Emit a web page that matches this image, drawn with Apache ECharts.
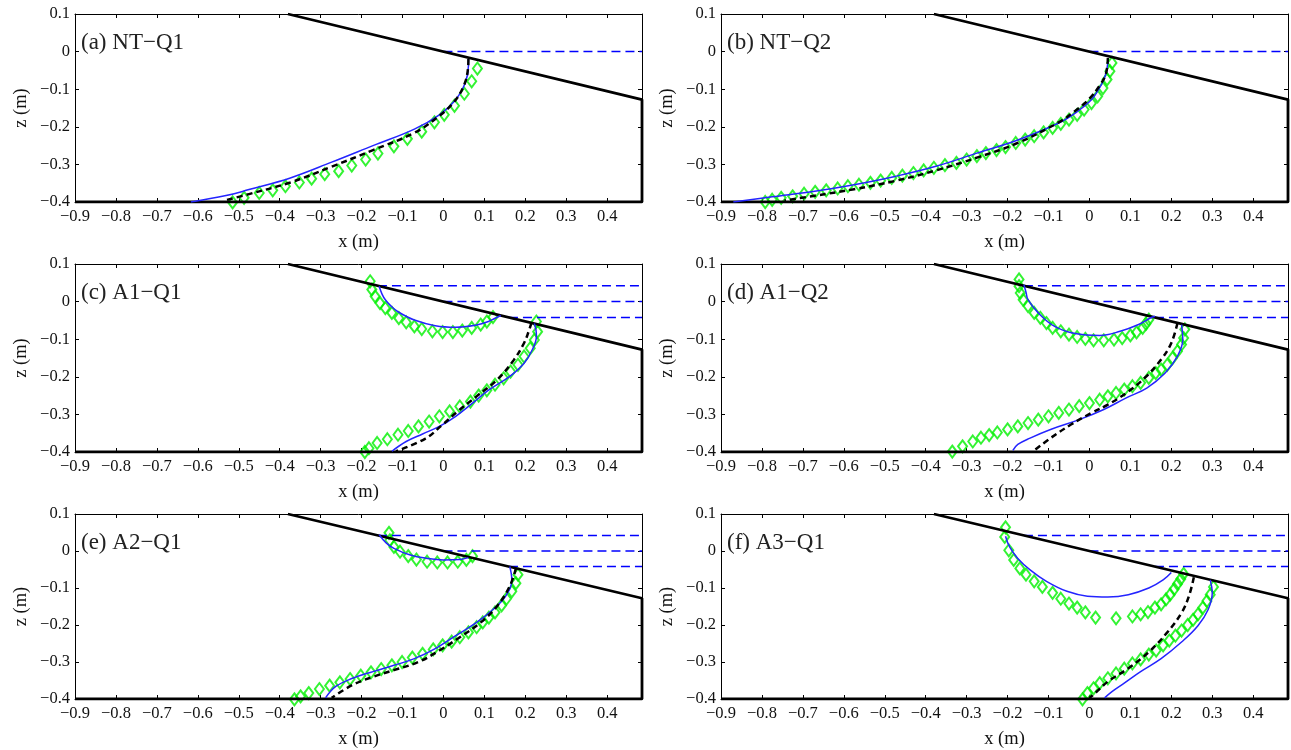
<!DOCTYPE html>
<html>
<head>
<meta charset="utf-8">
<script src="https://cdn.jsdelivr.net/npm/echarts@6/dist/echarts.min.js"></script>
<style>
  html, body { margin: 0; padding: 0; background: #fff; }
  #chart { width: 1291px; height: 750px; }
</style>
</head>
<body>
<div id="chart"></div>
<script>
// axis ranges and ticks
const xMin = -0.9, xMax = 0.485, zMin = -0.4, zMax = 0.1, tickStep = 0.1;

// flume bed (slope + bottom)
const bedX = [-0.38, 0.485, 0.485, -0.9];
const bedZ = [0.1, -0.1277, -0.4, -0.4];

// still water levels and where they meet the slope
const levelsNT = [0];
const startsNT = [0];
const levelsA = [0.042, 0, -0.042];
const startsA = [-0.16, 0, 0.16];

// (a) NT-Q1
const aModel = [[0.061,-0.02],[0.061,-0.039],[0.053,-0.084],[0.03,-0.128],[-0.01,-0.168],[-0.071,-0.206],[-0.172,-0.25],[-0.273,-0.294],[-0.374,-0.336],[-0.475,-0.367],[-0.531,-0.383],[-0.617,-0.4]];
const aTheory = [[0.061,-0.02],[0.06,-0.045],[0.05,-0.09],[0.025,-0.135],[-0.015,-0.175],[-0.071,-0.216],[-0.172,-0.262],[-0.273,-0.306],[-0.374,-0.348],[-0.475,-0.379],[-0.531,-0.395]];
const aExp = [[0.083,-0.045],[0.069,-0.079],[0.051,-0.112],[0.027,-0.144],[0.002,-0.168],[-0.022,-0.188],[-0.053,-0.213],[-0.088,-0.232],[-0.121,-0.252],[-0.16,-0.271],[-0.19,-0.287],[-0.224,-0.303],[-0.256,-0.318],[-0.29,-0.326],[-0.322,-0.338],[-0.352,-0.348],[-0.386,-0.358],[-0.417,-0.369],[-0.45,-0.376],[-0.487,-0.389],[-0.515,-0.401]];

// (b) NT-Q2
const bModel = [[0.045,-0.017],[0.043,-0.045],[0.035,-0.075],[0.02,-0.105],[0.005,-0.128],[-0.03,-0.16],[-0.075,-0.19],[-0.175,-0.235],[-0.275,-0.27],[-0.375,-0.305],[-0.475,-0.332],[-0.575,-0.354],[-0.675,-0.372],[-0.775,-0.386],[-0.87,-0.4]];
const bTheory = [[0.045,-0.017],[0.04,-0.06],[0.025,-0.09],[0,-0.125],[-0.035,-0.158],[-0.075,-0.188],[-0.175,-0.243],[-0.275,-0.282],[-0.375,-0.316],[-0.475,-0.344],[-0.575,-0.366],[-0.675,-0.384],[-0.745,-0.396]];
const bExp = [[0.055,-0.03],[0.05,-0.052],[0.043,-0.074],[0.033,-0.097],[0.02,-0.119],[0.005,-0.137],[-0.013,-0.154],[-0.03,-0.168],[-0.05,-0.181],[-0.07,-0.192],[-0.09,-0.203],[-0.112,-0.215],[-0.135,-0.225],[-0.157,-0.234],[-0.18,-0.243],[-0.205,-0.254],[-0.227,-0.262],[-0.253,-0.27],[-0.275,-0.278],[-0.3,-0.287],[-0.325,-0.296],[-0.353,-0.302],[-0.38,-0.309],[-0.405,-0.316],[-0.43,-0.323],[-0.457,-0.33],[-0.483,-0.336],[-0.51,-0.343],[-0.535,-0.349],[-0.563,-0.354],[-0.59,-0.358],[-0.615,-0.364],[-0.643,-0.369],[-0.67,-0.373],[-0.697,-0.378],[-0.725,-0.385],[-0.753,-0.389],[-0.775,-0.394],[-0.792,-0.4]];

// (c) A1-Q1
const cModelTop = [[-0.157,0.041],[-0.15,0.02],[-0.142,0.005],[-0.128,-0.012],[-0.111,-0.027],[-0.071,-0.049],[-0.02,-0.064],[0.03,-0.068],[0.081,-0.062],[0.11,-0.053],[0.125,-0.045],[0.14,-0.037]];
const cExpTop = [[-0.179,0.054],[-0.175,0.032],[-0.167,0.014],[-0.155,-0.004],[-0.142,-0.017],[-0.126,-0.03],[-0.109,-0.044],[-0.091,-0.055],[-0.071,-0.066],[-0.053,-0.073],[-0.027,-0.079],[-0.002,-0.081],[0.023,-0.081],[0.046,-0.077],[0.069,-0.07],[0.091,-0.061],[0.106,-0.053],[0.121,-0.041]];
const cModel = [[0.222,-0.058],[0.226,-0.075],[0.227,-0.093],[0.217,-0.128],[0.197,-0.164],[0.162,-0.199],[0.111,-0.235],[0.071,-0.27],[0.03,-0.305],[-0.01,-0.332],[-0.051,-0.352],[-0.091,-0.372],[-0.126,-0.398]];
const cTheory = [[0.215,-0.056],[0.208,-0.08],[0.197,-0.11],[0.172,-0.155],[0.131,-0.208],[0.081,-0.252],[0.035,-0.292],[-0.005,-0.33],[-0.045,-0.365],[-0.116,-0.398]];
const cExp = [[0.227,-0.053],[0.23,-0.08],[0.222,-0.102],[0.212,-0.124],[0.197,-0.146],[0.182,-0.168],[0.164,-0.186],[0.147,-0.204],[0.126,-0.221],[0.106,-0.236],[0.086,-0.25],[0.066,-0.266],[0.04,-0.279],[0.015,-0.292],[-0.01,-0.305],[-0.035,-0.319],[-0.061,-0.332],[-0.086,-0.344],[-0.111,-0.354],[-0.137,-0.366],[-0.162,-0.376],[-0.182,-0.39],[-0.192,-0.4]];

// (d) A1-Q2
const dModelTop = [[-0.16,0.045],[-0.155,0.025],[-0.15,0.005],[-0.125,-0.03],[-0.085,-0.066],[-0.035,-0.085],[0.025,-0.09],[0.075,-0.079],[0.12,-0.061],[0.15,-0.043],[0.16,-0.039]];
const dExpTop = [[-0.172,0.059],[-0.172,0.041],[-0.169,0.023],[-0.162,0.005],[-0.15,-0.012],[-0.135,-0.03],[-0.12,-0.043],[-0.105,-0.057],[-0.09,-0.07],[-0.07,-0.079],[-0.05,-0.088],[-0.03,-0.094],[-0.01,-0.099],[0.01,-0.103],[0.035,-0.103],[0.06,-0.101],[0.08,-0.097],[0.1,-0.09],[0.115,-0.082],[0.13,-0.07],[0.138,-0.059],[0.145,-0.048]];
const dModel = [[0.225,-0.061],[0.228,-0.101],[0.215,-0.145],[0.185,-0.19],[0.14,-0.23],[0.09,-0.256],[0.035,-0.287],[-0.025,-0.314],[-0.095,-0.34],[-0.145,-0.363],[-0.175,-0.38],[-0.187,-0.396]];
const dTheory = [[0.215,-0.057],[0.2,-0.11],[0.175,-0.154],[0.135,-0.203],[0.09,-0.243],[0.045,-0.274],[0.005,-0.296],[-0.045,-0.327],[-0.095,-0.363],[-0.135,-0.396]];
const dExp = [[0.233,-0.074],[0.23,-0.097],[0.225,-0.114],[0.215,-0.132],[0.203,-0.15],[0.19,-0.168],[0.175,-0.181],[0.162,-0.19],[0.145,-0.203],[0.125,-0.216],[0.105,-0.225],[0.085,-0.234],[0.065,-0.243],[0.045,-0.252],[0.025,-0.261],[0,-0.27],[-0.025,-0.278],[-0.05,-0.287],[-0.075,-0.296],[-0.1,-0.305],[-0.125,-0.314],[-0.15,-0.323],[-0.175,-0.332],[-0.2,-0.34],[-0.225,-0.348],[-0.245,-0.355],[-0.265,-0.362],[-0.285,-0.372],[-0.31,-0.385],[-0.335,-0.399]];

// (e) A2-Q1
const eModelTop = [[-0.157,0.044],[-0.14,0.022],[-0.121,0.007],[-0.081,-0.011],[-0.04,-0.02],[0,-0.024],[0.04,-0.023],[0.061,-0.018]];
const eExpTop = [[-0.133,0.049],[-0.131,0.029],[-0.121,0.011],[-0.106,-0.002],[-0.086,-0.014],[-0.066,-0.023],[-0.04,-0.029],[-0.015,-0.031],[0.01,-0.031],[0.035,-0.029],[0.056,-0.024],[0.071,-0.014]];
const eModel = [[0.162,-0.042],[0.167,-0.078],[0.152,-0.122],[0.121,-0.158],[0.081,-0.193],[0.03,-0.229],[-0.02,-0.264],[-0.071,-0.291],[-0.121,-0.309],[-0.172,-0.326],[-0.222,-0.344],[-0.263,-0.366],[-0.288,-0.397]];
const eTheory = [[0.177,-0.047],[0.162,-0.095],[0.131,-0.149],[0.091,-0.193],[0.04,-0.233],[-0.01,-0.269],[-0.061,-0.3],[-0.121,-0.322],[-0.172,-0.34],[-0.222,-0.362],[-0.273,-0.397]];
const eExp = [[0.182,-0.064],[0.177,-0.087],[0.167,-0.109],[0.154,-0.129],[0.142,-0.147],[0.126,-0.166],[0.111,-0.18],[0.096,-0.193],[0.081,-0.206],[0.061,-0.22],[0.04,-0.233],[0.02,-0.245],[-0.002,-0.255],[-0.025,-0.266],[-0.051,-0.278],[-0.076,-0.288],[-0.101,-0.3],[-0.126,-0.309],[-0.152,-0.319],[-0.177,-0.328],[-0.202,-0.337],[-0.228,-0.346],[-0.253,-0.355],[-0.278,-0.364],[-0.303,-0.373],[-0.329,-0.384],[-0.349,-0.393],[-0.364,-0.401]];

// (f) A3-Q1
const fModelTop = [[-0.205,0.04],[-0.195,0.011],[-0.175,-0.02],[-0.145,-0.051],[-0.105,-0.082],[-0.055,-0.109],[-0.005,-0.122],[0.045,-0.124],[0.095,-0.118],[0.145,-0.1],[0.18,-0.078],[0.2,-0.058]];
const fExpTop = [[-0.205,0.064],[-0.207,0.038],[-0.197,0.002],[-0.185,-0.024],[-0.17,-0.047],[-0.155,-0.064],[-0.135,-0.082],[-0.115,-0.097],[-0.09,-0.113],[-0.07,-0.129],[-0.05,-0.142],[-0.03,-0.153],[-0.01,-0.166],[0.015,-0.18],[0.065,-0.182],[0.105,-0.177],[0.125,-0.171],[0.143,-0.165],[0.16,-0.153],[0.175,-0.144],[0.187,-0.131],[0.197,-0.118],[0.207,-0.103],[0.215,-0.089],[0.223,-0.076],[0.23,-0.062]];
const fModel = [[0.295,-0.078],[0.3,-0.113],[0.29,-0.158],[0.265,-0.202],[0.225,-0.246],[0.175,-0.291],[0.125,-0.326],[0.085,-0.357],[0.055,-0.38],[0.037,-0.397]];
const fTheory = [[0.255,-0.071],[0.243,-0.122],[0.225,-0.167],[0.19,-0.22],[0.145,-0.273],[0.095,-0.317],[0.045,-0.353],[0.01,-0.388],[0,-0.397]];
const fExp = [[0.303,-0.097],[0.295,-0.118],[0.287,-0.135],[0.277,-0.153],[0.265,-0.171],[0.253,-0.186],[0.24,-0.2],[0.225,-0.215],[0.21,-0.229],[0.195,-0.242],[0.18,-0.255],[0.163,-0.269],[0.145,-0.28],[0.125,-0.293],[0.105,-0.304],[0.085,-0.318],[0.065,-0.331],[0.045,-0.344],[0.025,-0.357],[0.01,-0.371],[-0.005,-0.384],[-0.017,-0.401]];

const panels = [
  { label: '(a) NT\u2212Q1', levels: levelsNT, starts: startsNT, model: [aModel], theory: [aTheory], exp: [aExp] },
  { label: '(b) NT\u2212Q2', levels: levelsNT, starts: startsNT, model: [bModel], theory: [bTheory], exp: [bExp] },
  { label: '(c) A1\u2212Q1', levels: levelsA, starts: startsA, model: [cModelTop, cModel], theory: [cTheory], exp: [cExpTop, cExp] },
  { label: '(d) A1\u2212Q2', levels: levelsA, starts: startsA, model: [dModelTop, dModel], theory: [dTheory], exp: [dExpTop, dExp] },
  { label: '(e) A2\u2212Q1', levels: levelsA, starts: startsA, model: [eModelTop, eModel], theory: [eTheory], exp: [eExpTop, eExp] },
  { label: '(f) A3\u2212Q1', levels: levelsA, starts: startsA, model: [fModelTop, fModel], theory: [fTheory], exp: [fExpTop, fExp] }
];

const serif = 'Liberation Serif';
const lefts = [75, 721];
const tops = [14, 264, 514];
const gw = 567, gh = 188;

function fmt(v) {
  const r = Math.round(v * 10) / 10;
  if (r === 0) return '0';
  return (r < 0 ? '\u2212' : '') + Math.abs(r);
}

const grid = [], xAxis = [], yAxis = [], title = [], series = [];

panels.forEach((p, i) => {
  const left = lefts[i % 2];
  const top = tops[Math.floor(i / 2)];
  grid.push({ left: left, top: top, width: gw, height: gh });

  const line = { show: true, onZero: false, lineStyle: { color: '#000', width: 1 } };
  const tick = { show: true, inside: true, length: 4, lineStyle: { color: '#000', width: 1 } };
  // bottom / top x axes
  xAxis.push({
    type: 'value', gridIndex: i, position: 'bottom', min: xMin, max: xMax, interval: tickStep,
    axisLine: line, axisTick: tick, splitLine: { show: false },
    axisLabel: { formatter: fmt, fontFamily: serif, fontSize: 16.5, color: '#111', margin: 6, showMinLabel: true, showMaxLabel: false },
    name: 'x (m)', nameLocation: 'middle', nameGap: 31,
    nameTextStyle: { fontFamily: serif, fontSize: 18.5, color: '#111' }
  });
  xAxis.push({
    type: 'value', gridIndex: i, position: 'top', min: xMin, max: xMax, interval: tickStep,
    axisLine: line, axisTick: tick, splitLine: { show: false }, axisLabel: { show: false }
  });
  // left / right z axes
  yAxis.push({
    type: 'value', gridIndex: i, position: 'left', min: zMin, max: zMax, interval: tickStep,
    axisLine: line, axisTick: tick, splitLine: { show: false },
    axisLabel: { formatter: fmt, fontFamily: serif, fontSize: 16.5, color: '#111', margin: 5 },
    name: 'z (m)', nameLocation: 'middle', nameGap: 44,
    nameTextStyle: { fontFamily: serif, fontSize: 18.5, color: '#111' }
  });
  yAxis.push({
    type: 'value', gridIndex: i, position: 'right', min: zMin, max: zMax, interval: tickStep,
    axisLine: line, axisTick: tick, splitLine: { show: false }, axisLabel: { show: false }
  });

  title.push({
    text: p.label, left: left + 6, top: top + 17, padding: 0,
    textStyle: { fontFamily: serif, fontSize: 23, fontWeight: 'normal', color: '#222' }
  });

  const xi = 2 * i, yi = 2 * i;
  p.levels.forEach((z, k) => {
    series.push({
      type: 'line', xAxisIndex: xi, yAxisIndex: yi, symbol: 'none', silent: true,
      data: [[p.starts[k], z], [xMax, z]],
      lineStyle: { color: '#0000ff', width: 1.5, type: [9, 5] }
    });
  });
  series.push({
    type: 'line', xAxisIndex: xi, yAxisIndex: yi, symbol: 'none', silent: true,
    data: bedX.map((x, k) => [x, bedZ[k]]),
    lineStyle: { color: '#000', width: 2.8 }
  });
  p.exp.forEach(d => {
    series.push({
      type: 'scatter', xAxisIndex: xi, yAxisIndex: yi, data: d, clip: false,
      symbol: 'diamond', symbolSize: [9, 12],
      itemStyle: { color: 'rgba(255,255,255,0)', borderColor: '#00f000', borderWidth: 2 }
    });
  });
  p.model.forEach(d => {
    series.push({
      type: 'line', xAxisIndex: xi, yAxisIndex: yi, data: d, symbol: 'none', smooth: 0.4,
      lineStyle: { color: '#2424ff', width: 1.5 }
    });
  });
  p.theory.forEach(d => {
    series.push({
      type: 'line', xAxisIndex: xi, yAxisIndex: yi, data: d, symbol: 'none', smooth: 0.4,
      lineStyle: { color: '#000', width: 2.5, type: [6, 4] }
    });
  });
});

const chart = echarts.init(document.getElementById('chart'), null, { renderer: 'canvas' });
chart.setOption({ animation: false, backgroundColor: '#fff', title, grid, xAxis, yAxis, series });
</script>
</body>
</html>
